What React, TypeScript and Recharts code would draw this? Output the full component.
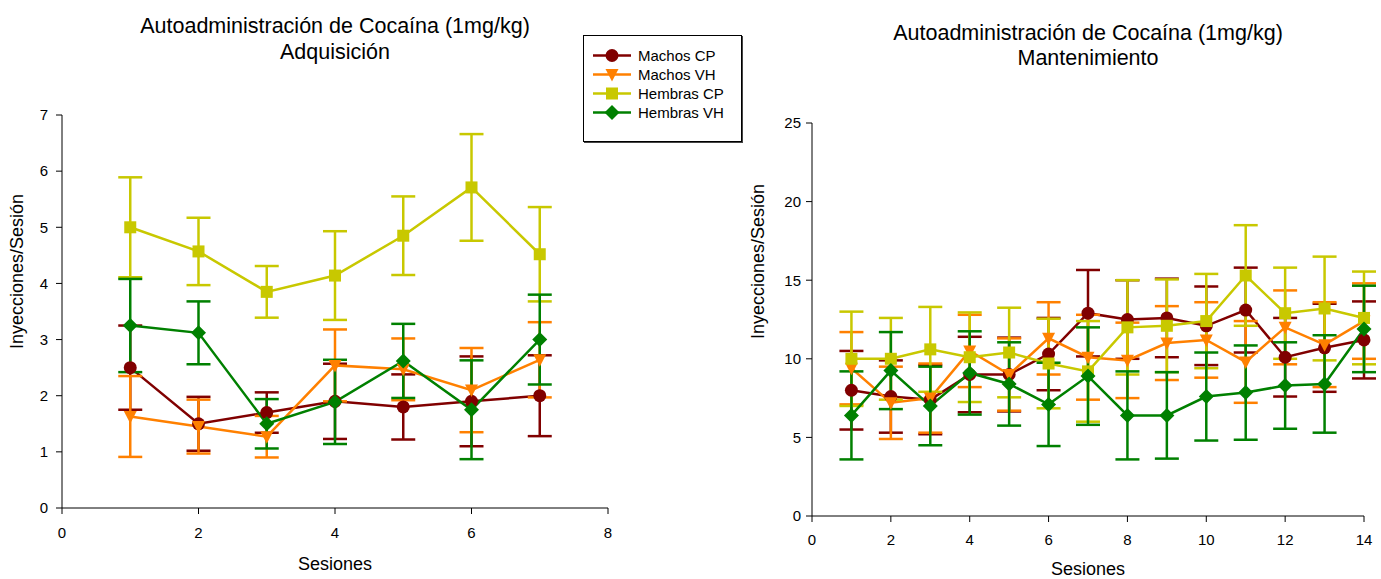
import { LineChart, Line, XAxis, YAxis, ErrorBar } from 'recharts';

const FONT = '"Liberation Sans", Arial, Helvetica, sans-serif';

// Adquisición: sesiones 1-7 (media y error estándar)
const sesionesAdq = [1, 2, 3, 4, 5, 6, 7];
const machosCPAdq = [2.5, 1.5, 1.7, 1.9, 1.8, 1.9, 2.0];
const machosCPAdqErr = [0.75, 0.48, 0.36, 0.67, 0.58, 0.8, 0.72];
const machosVHAdq = [1.63, 1.45, 1.27, 2.54, 2.47, 2.1, 2.64];
const machosVHAdqErr = [0.72, 0.48, 0.37, 0.64, 0.55, 0.75, 0.67];
const hembrasCPAdq = [5.0, 4.57, 3.85, 4.14, 4.85, 5.71, 4.52];
const hembrasCPAdqErr = [0.89, 0.6, 0.46, 0.79, 0.7, 0.95, 0.84];
const hembrasVHAdq = [3.25, 3.12, 1.5, 1.89, 2.62, 1.75, 3.0];
const hembrasVHAdqErr = [0.83, 0.56, 0.44, 0.75, 0.66, 0.88, 0.8];

// Mantenimiento: sesiones 1-14
const sesionesMant = [1, 2, 3, 4, 5, 6, 7, 8, 9, 10, 11, 12, 13, 14];
const machosCPMant = [8.0, 7.6, 7.4, 9.0, 9.0, 10.3, 12.9, 12.5, 12.6, 12.1, 13.1, 10.1, 10.7, 11.2];
const machosCPMantErr = [2.5, 2.3, 2.2, 2.4, 2.35, 2.3, 2.75, 2.5, 2.5, 2.5, 2.7, 2.5, 2.8, 2.45];
const machosVHMant = [9.4, 7.2, 7.5, 10.5, 9.0, 11.3, 10.1, 9.9, 11.0, 11.2, 9.8, 12.0, 10.9, 12.4];
const machosVHMantErr = [2.3, 2.3, 2.2, 2.3, 2.3, 2.3, 2.7, 2.4, 2.35, 2.4, 2.6, 2.35, 2.7, 2.4];
const hembrasCPMant = [10.0, 10.0, 10.6, 10.1, 10.4, 9.7, 9.2, 12.0, 12.1, 12.4, 15.3, 12.9, 13.2, 12.6];
const hembrasCPMantErr = [3.0, 2.6, 2.7, 2.85, 2.85, 2.85, 3.2, 3.0, 2.95, 3.0, 3.2, 2.9, 3.3, 2.95];
const hembrasVHMant = [6.4, 9.25, 7.0, 9.1, 8.4, 7.1, 8.9, 6.4, 6.4, 7.6, 7.85, 8.3, 8.4, 11.9];
const hembrasVHMantErr = [2.8, 2.45, 2.5, 2.65, 2.65, 2.65, 3.1, 2.8, 2.75, 2.8, 3.0, 2.75, 3.1, 2.75];

const adqXTicks = [0, 2, 4, 6, 8];
const adqYTicks = [0, 1, 2, 3, 4, 5, 6, 7];
const mantXTicks = [0, 2, 4, 6, 8, 10, 12, 14];
const mantYTicks = [0, 5, 10, 15, 20, 25];

type Shape = 'circle' | 'triangle' | 'square' | 'diamond';

const series: { key: string; name: string; color: string; shape: Shape }[] = [
  { key: 'machosCP', name: 'Machos CP', color: '#800000', shape: 'circle' },
  { key: 'machosVH', name: 'Machos VH', color: '#FF8000', shape: 'triangle' },
  { key: 'hembrasCP', name: 'Hembras CP', color: '#C8C800', shape: 'square' },
  { key: 'hembrasVH', name: 'Hembras VH', color: '#008000', shape: 'diamond' },
];

const adqRows = sesionesAdq.map((s, i) => ({
  sesion: s,
  machosCP: machosCPAdq[i], machosCPErr: machosCPAdqErr[i],
  machosVH: machosVHAdq[i], machosVHErr: machosVHAdqErr[i],
  hembrasCP: hembrasCPAdq[i], hembrasCPErr: hembrasCPAdqErr[i],
  hembrasVH: hembrasVHAdq[i], hembrasVHErr: hembrasVHAdqErr[i],
}));

const mantRows = sesionesMant.map((s, i) => ({
  sesion: s,
  machosCP: machosCPMant[i], machosCPErr: machosCPMantErr[i],
  machosVH: machosVHMant[i], machosVHErr: machosVHMantErr[i],
  hembrasCP: hembrasCPMant[i], hembrasCPErr: hembrasCPMantErr[i],
  hembrasVH: hembrasVHMant[i], hembrasVHErr: hembrasVHMantErr[i],
}));

function Marker({ shape, cx, cy, color }: { shape: Shape; cx: number; cy: number; color: string }) {
  if (shape === 'circle') return <circle cx={cx} cy={cy} r={6.5} fill={color} />;
  if (shape === 'square') return <rect x={cx - 6} y={cy - 6} width={12} height={12} fill={color} />;
  if (shape === 'triangle')
    return <polygon points={`${cx - 6.5},${cy - 5.5} ${cx + 6.5},${cy - 5.5} ${cx},${cy + 7}`} fill={color} />;
  return <polygon points={`${cx},${cy - 7.5} ${cx + 7.5},${cy} ${cx},${cy + 7.5} ${cx - 7.5},${cy}`} fill={color} />;
}

interface PanelProps {
  rows: typeof adqRows;
  width: number;
  margin: { top: number; right: number; bottom: number; left: number };
  yWidth: number;
  xHeight: number;
  xDomain: [number, number];
  xTicks: number[];
  yDomain: [number, number];
  yTicks: number[];
  xTickMargin: number;
  yTickMargin: number;
  xLabelOffset: number;
  yLabelOffset: number;
  yLabelDy: number;
}

function Panel(p: PanelProps) {
  const tick = { fill: '#000', fontSize: 15, fontFamily: FONT };
  return (
    <LineChart width={p.width} height={579} data={p.rows} margin={p.margin}>
      <XAxis
        type="number"
        dataKey="sesion"
        domain={p.xDomain}
        ticks={p.xTicks}
        interval={0}
        height={p.xHeight}
        tick={tick}
        tickSize={6}
        tickMargin={p.xTickMargin}
        axisLine={{ stroke: '#000' }}
        tickLine={{ stroke: '#000' }}
        label={{
          value: 'Sesiones',
          position: 'insideBottom',
          offset: p.xLabelOffset,
          fill: '#000',
          fontSize: 18,
          fontFamily: FONT,
        }}
      />
      <YAxis
        type="number"
        domain={p.yDomain}
        ticks={p.yTicks}
        interval={0}
        width={p.yWidth}
        tick={tick}
        tickSize={6}
        tickMargin={p.yTickMargin}
        axisLine={{ stroke: '#000' }}
        tickLine={{ stroke: '#000' }}
        label={{
          value: 'Inyecciones/Sesión',
          angle: -90,
          position: 'insideLeft',
          offset: p.yLabelOffset,
          dy: p.yLabelDy,
          fill: '#000',
          fontSize: 18,
          fontFamily: FONT,
          style: { textAnchor: 'middle' },
        }}
      />
      {series.map((s) => (
        <Line
          key={s.key}
          type="linear"
          dataKey={s.key}
          name={s.name}
          stroke={s.color}
          strokeWidth={2.5}
          isAnimationActive={false}
          activeDot={false}
          dot={(d: any) => <Marker key={`${s.key}-${d.index}`} shape={s.shape} cx={d.cx} cy={d.cy} color={s.color} />}
        >
          <ErrorBar dataKey={`${s.key}Err`} direction="y" width={12} stroke={s.color} strokeWidth={2.5} />
        </Line>
      ))}
    </LineChart>
  );
}

function Legend() {
  return (
    <div
      style={{
        position: 'absolute',
        left: 583,
        top: 35,
        width: 157,
        height: 95,
        border: '1px solid #000',
        boxShadow: '1px 1px 0 #444',
        background: '#fff',
        paddingTop: 10,
        boxSizing: 'content-box',
      }}
    >
      {series.map((s) => (
        <div key={s.key} style={{ display: 'flex', alignItems: 'center', height: 19, paddingLeft: 9 }}>
          <svg width={38} height={19}>
            <line x1={0} y1={9.5} x2={38} y2={9.5} stroke={s.color} strokeWidth={2.5} />
            <Marker shape={s.shape} cx={19} cy={9.5} color={s.color} />
          </svg>
          <span style={{ marginLeft: 7, fontSize: 15, color: '#000' }}>{s.name}</span>
        </div>
      ))}
    </div>
  );
}

const titleStyle = {
  position: 'absolute' as const,
  width: 600,
  textAlign: 'center' as const,
  fontSize: 21.5,
  color: '#000',
};

export default function App() {
  return (
    <div
      style={{
        position: 'absolute',
        left: 0,
        top: 0,
        width: 1381,
        height: 579,
        background: '#fff',
        fontFamily: FONT,
      }}
    >
      <div style={{ ...titleStyle, left: 35, top: 13, lineHeight: '26px' }}>
        Autoadministración de Cocaína (1mg/kg)
        <br />
        Adquisición
      </div>
      <div style={{ ...titleStyle, left: 788, top: 21, lineHeight: '25px' }}>
        Autoadministración de Cocaína (1mg/kg)
        <br />
        Mantenimiento
      </div>

      <div style={{ position: 'absolute', left: 0, top: 0 }}>
        <Panel
          rows={adqRows}
          width={640}
          margin={{ top: 115, right: 32, bottom: 0, left: 0 }}
          yWidth={62}
          xHeight={71}
          xDomain={[0, 8]}
          xTicks={adqXTicks}
          yDomain={[0, 7]}
          yTicks={adqYTicks}
          xTickMargin={13}
          yTickMargin={8}
          xLabelOffset={9}
          yLabelOffset={17}
          yLabelDy={-40}
        />
      </div>

      <div style={{ position: 'absolute', left: 700, top: 0 }}>
        <Panel
          rows={mantRows}
          width={681}
          margin={{ top: 123, right: 17, bottom: 0, left: 40 }}
          yWidth={72}
          xHeight={63}
          xDomain={[0, 14]}
          xTicks={mantXTicks}
          yDomain={[0, 25]}
          yTicks={mantYTicks}
          xTickMargin={12}
          yTickMargin={5}
          xLabelOffset={4}
          yLabelOffset={18}
          yLabelDy={-58}
        />
      </div>

      <Legend />
    </div>
  );
}
